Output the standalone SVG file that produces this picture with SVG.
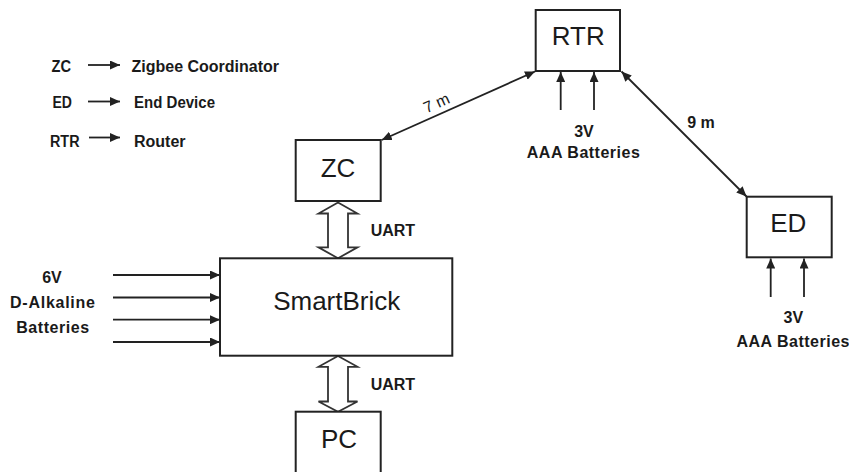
<svg xmlns="http://www.w3.org/2000/svg" width="849" height="472" viewBox="0 0 849 472">
<style>
.box{fill:#fff;stroke:#222;stroke-width:2}
.nt{font-family:"Liberation Sans",Arial,sans-serif;font-size:26px;fill:#1a1a1a;text-anchor:middle}
.lb{font-family:"Liberation Sans",Arial,sans-serif;font-size:16px;font-weight:bold;fill:#1a1a1a}
.c{text-anchor:middle}
.ln{stroke:#222;stroke-width:1.8;fill:none}
.ua{fill:#fff;stroke:#333;stroke-width:1.8;stroke-linejoin:miter}
</style>
<defs>
<marker id="ah" markerUnits="userSpaceOnUse" markerWidth="11" markerHeight="9" refX="10" refY="4.5" orient="auto-start-reverse">
<path d="M0,0 L10,4.5 L0,9 z" fill="#222"/>
</marker>
</defs>
<rect width="849" height="472" fill="#fff"/>

<g id="legend">
<text class="lb" x="51.5" y="72" textLength="19.5" lengthAdjust="spacingAndGlyphs">ZC</text>
<text class="lb" x="52.5" y="108" textLength="19.5" lengthAdjust="spacingAndGlyphs">ED</text>
<text class="lb" x="50" y="146.5" textLength="29.5" lengthAdjust="spacingAndGlyphs">RTR</text>
<line class="ln" x1="88" y1="65" x2="120" y2="65" marker-end="url(#ah)"/>
<line class="ln" x1="88" y1="101.5" x2="120" y2="101.5" marker-end="url(#ah)"/>
<line class="ln" x1="89" y1="137.5" x2="120" y2="137.5" marker-end="url(#ah)"/>
<text class="lb" x="131.5" y="72">Zigbee Coordinator</text>
<text class="lb" x="134" y="108" textLength="81" lengthAdjust="spacingAndGlyphs">End Device</text>
<text class="lb" x="134" y="146.5">Router</text>
</g>

<g id="connectors">
<line class="ln" x1="381.7" y1="140" x2="535" y2="71.5" marker-start="url(#ah)" marker-end="url(#ah)"/>
<line class="ln" x1="621.5" y1="71.5" x2="746.5" y2="196.5" marker-start="url(#ah)" marker-end="url(#ah)"/>
<polygon class="ua" points="338,202.5 357.5,213.5 348,213.5 348,247.3 357.5,247.3 338,258.3 318.5,247.3 328,247.3 328,213.5 318.5,213.5"/>
<polygon class="ua" points="338,356 357.5,366.8 348,366.8 348,401.5 357.5,401.5 338,411.7 318.5,401.5 328,401.5 328,366.8 318.5,366.8"/>
<line class="ln" x1="113" y1="275" x2="220" y2="275" marker-end="url(#ah)"/>
<line class="ln" x1="113" y1="297.5" x2="220" y2="297.5" marker-end="url(#ah)"/>
<line class="ln" x1="113" y1="319.7" x2="220" y2="319.7" marker-end="url(#ah)"/>
<line class="ln" x1="113" y1="342" x2="220" y2="342" marker-end="url(#ah)"/>
<line class="ln" x1="560.7" y1="110" x2="560.7" y2="72" marker-end="url(#ah)"/>
<line class="ln" x1="594" y1="110" x2="594" y2="72" marker-end="url(#ah)"/>
<line class="ln" x1="770.7" y1="297" x2="770.7" y2="258.5" marker-end="url(#ah)"/>
<line class="ln" x1="804" y1="297" x2="804" y2="258.5" marker-end="url(#ah)"/>
<text transform="translate(438.7,108) rotate(-24.2)" font-family="Liberation Sans,Arial,sans-serif" font-size="16" fill="#1a1a1a" text-anchor="middle">7 m</text>
<text class="lb c" x="701" y="128.3">9 m</text>
<text class="lb" x="370.7" y="236">UART</text>
<text class="lb" x="370.7" y="390">UART</text>
<text class="lb c" x="584" y="136.7">3V</text>
<text class="lb c" x="583.3" y="158.3" textLength="113">AAA Batteries</text>
<text class="lb c" x="793.3" y="323.3">3V</text>
<text class="lb c" x="793" y="346.7" textLength="113">AAA Batteries</text>
<text class="lb c" x="52" y="283.3">6V</text>
<text class="lb c" x="52.5" y="308.3" textLength="85">D-Alkaline</text>
<text class="lb c" x="52.7" y="333.3" textLength="73">Batteries</text>
</g>

<g id="node-rtr">
<rect class="box" x="535.7" y="10" width="84.3" height="61"/>
<text class="nt" x="578.3" y="45">RTR</text>
</g>
<g id="node-zc">
<rect class="box" x="295.7" y="140" width="85" height="61"/>
<text class="nt" x="338" y="176.7">ZC</text>
</g>
<g id="node-ed">
<rect class="box" x="746.7" y="196.7" width="85" height="60.6"/>
<text class="nt" x="788.3" y="231.7">ED</text>
</g>
<g id="node-smartbrick">
<rect class="box" x="220" y="258.3" width="232.3" height="97.4"/>
<text class="nt" x="336.7" y="310" font-size="28">SmartBrick</text>
</g>
<g id="node-pc">
<rect class="box" x="295.7" y="411.7" width="85" height="70"/>
<text class="nt" x="339" y="448.3">PC</text>
</g>
</svg>
